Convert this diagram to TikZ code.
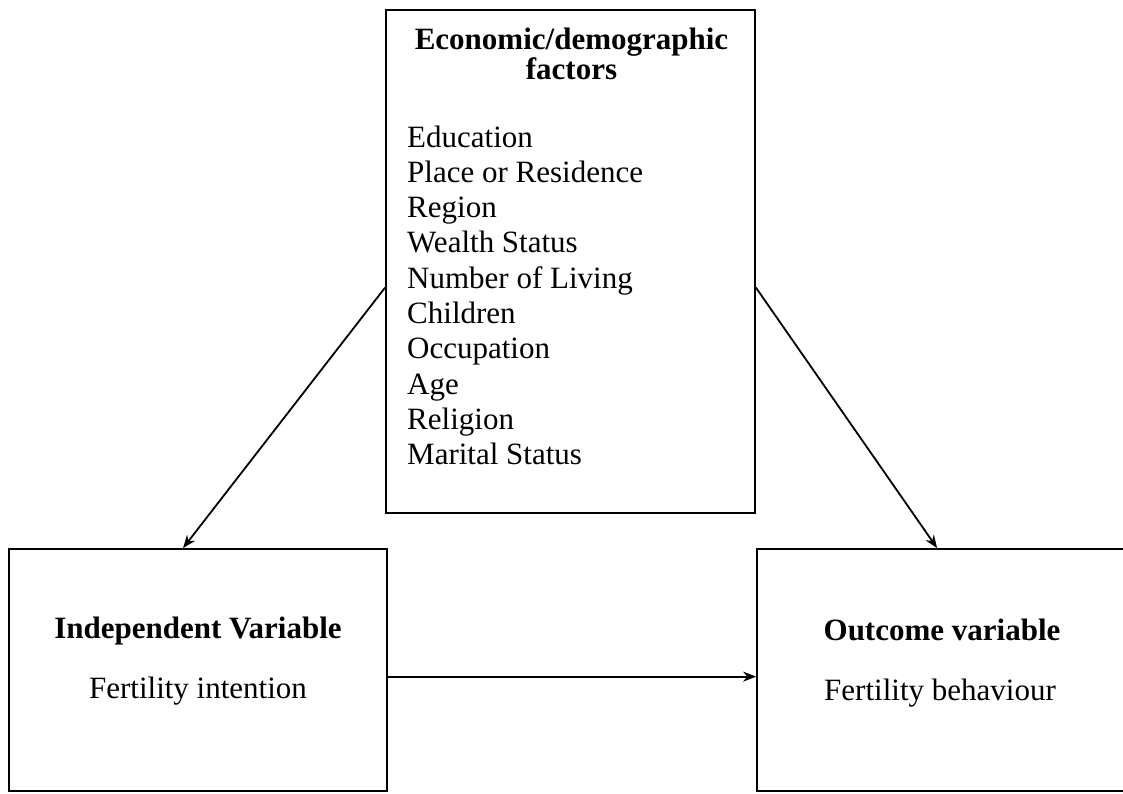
\documentclass[tikz,border=0pt]{standalone}
\usepackage{fontspec}
\setmainfont{Liberation Serif}
\usetikzlibrary{arrows.meta}

\tikzset{
  box/.style={draw, line width=1.8pt, inner sep=0pt},
  txt/.style={anchor=base, inner sep=0pt, font=\fontsize{31}{35}\selectfont},
  head/.style={txt, font=\fontsize{31}{35}\selectfont\bfseries},
  item/.style={txt, anchor=base west},
  link/.style={line width=1.8pt, -{Stealth[length=13pt,width=10pt]}}
}

\begin{document}
\begin{tikzpicture}[x=1pt,y=-1pt]
  \useasboundingbox (0,0) rectangle (1123,793);
  % boxes
  \node[box, minimum width=369pt, minimum height=503pt] (econ) at (570.5,261.5) {};
  \node[box, minimum width=378pt, minimum height=242pt] (indep) at (198,670) {};
  \node[box, minimum width=373pt, minimum height=242pt] (outc) at (943.5,670) {};
  % texts
  \node[head] (econhead1) at (571.5,49) {Economic/demographic};
  \node[head] (econhead2) at (571.5,79) {factors};
  \foreach \fac [count=\i from 0] in {Education, Place or Residence, Region,
      Wealth Status, Number of Living, Children, Occupation, Age, Religion,
      Marital Status}
    \node[item] (fac\i) at (407,147+35.3*\i) {\fac};
  \node[head] (indephead) at (198,638) {Independent Variable};
  \node[txt] (indeptext) at (198,698) {Fertility intention};
  \node[head] (outchead) at (942,640) {Outcome variable};
  \node[txt] (outctext) at (940,700) {Fertility behaviour};
  % arrows
  \draw[link] (econ.188) -- (indep.97);
  \draw[link] (econ.352) -- (outc.93);
  \draw[link] (indep.-2) -- (indep.-2 -| outc.west);
\end{tikzpicture}
\end{document}
